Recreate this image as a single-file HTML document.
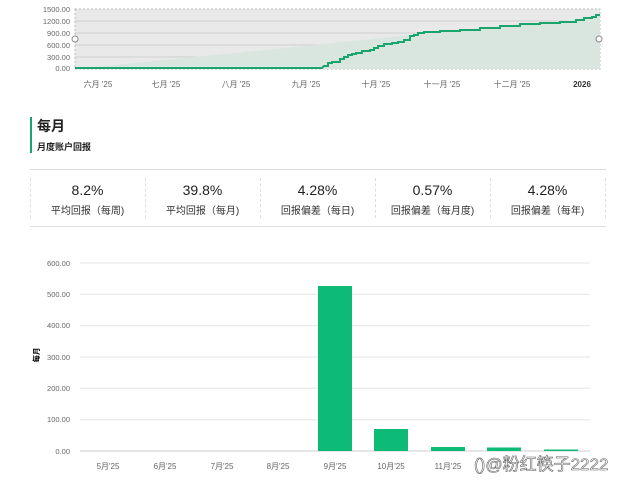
<!DOCTYPE html>
<html><head><meta charset="utf-8"><style>
body{margin:0;width:626px;height:497px;background:#fff;position:relative;overflow:hidden;font-family:"Liberation Sans","Noto Sans CJK SC",sans-serif;color:#222}
.a{position:absolute;white-space:nowrap}
.v{font-size:14px;width:115px;text-align:center}
.l{font-size:10px;width:115px;text-align:center;color:#333}
</style></head><body>
<svg class="a" style="left:0;top:0" width="626" height="100" font-family="Liberation Sans, Noto Sans CJK SC, sans-serif">
<rect x="75" y="9" width="525" height="60" fill="#e9e9e9" stroke="#bbb" stroke-dasharray="2,2"/>
<g stroke="#d0d0d0" stroke-width="1"><line x1="75" x2="600" y1="21" y2="21"/><line x1="75" x2="600" y1="33" y2="33"/><line x1="75" x2="600" y1="45" y2="45"/><line x1="75" x2="600" y1="57" y2="57"/></g>
<polygon fill="#d9e6e0" points="75,69 412,35 418,33 424,32 440,31 460,30 480,28 500,26 520,24 540,23 560,22 576,19 592,17 600,15 600,69"/>
<polyline fill="none" stroke="#1aa56e" stroke-width="2" points="75,68 312,68 322,68 324,66 328,66 328,63 332,63 332,62 340,62 340,59 344,59 344,57 348,57 348,55 352,55 352,54 356,54 356,53 362,53 362,51 370,51 370,50 374,50 374,48 378,48 378,46 384,46 384,44 392,44 392,43 398,43 398,42 404,42 404,40 410,40 410,36 414,36 414,35 418,35 418,33 424,33 424,32 440,32 440,31 460,31 460,30 480,30 480,28 500,28 500,26 520,26 520,24 540,24 540,23 560,23 560,22 576,22 576,20 584,20 584,18 592,18 592,17 596,17 596,15 600,15"/>
<g font-size="7.5" fill="#666" text-anchor="end"><text x="70" y="12">1500.00</text><text x="70" y="24">1200.00</text><text x="70" y="36">900.00</text><text x="70" y="48">600.00</text><text x="70" y="60">300.00</text><text x="70" y="71">0.00</text></g>
<circle cx="75" cy="39" r="3" fill="#fff" stroke="#888"/><circle cx="599" cy="39" r="3" fill="#fff" stroke="#888"/>
<g font-size="8" fill="#666" text-anchor="middle"><text x="98" y="87">六月 '25</text><text x="166" y="87">七月 '25</text><text x="236" y="87">八月 '25</text><text x="306" y="87">九月 '25</text><text x="376" y="87">十月 '25</text><text x="442" y="87">十一月 '25</text><text x="512" y="87">十二月 '25</text><text x="582" y="87" font-weight="bold" fill="#333">2026</text></g>
</svg>
<div class="a" style="left:30px;top:117px;width:2px;height:36px;background:#1aa56e"></div>
<div class="a" style="left:37px;top:116px;font-size:14px;font-weight:bold">每月</div>
<div class="a" style="left:37px;top:140px;font-size:9px;font-weight:bold">月度账户回报</div>
<div class="a" style="left:30px;top:169px;width:576px;height:56px;border-top:1px solid #ddd;border-bottom:1px solid #ddd"></div>
<div class="a" style="left:30px;top:178px;width:0;height:40px;border-left:1px dashed #ddd"></div>
<div class="a" style="left:145px;top:178px;width:0;height:40px;border-left:1px dashed #ddd"></div>
<div class="a" style="left:260px;top:178px;width:0;height:40px;border-left:1px dashed #ddd"></div>
<div class="a" style="left:375px;top:178px;width:0;height:40px;border-left:1px dashed #ddd"></div>
<div class="a" style="left:490px;top:178px;width:0;height:40px;border-left:1px dashed #ddd"></div>
<div class="a" style="left:605px;top:178px;width:0;height:40px;border-left:1px dashed #ddd"></div>
<div class="a v" style="left:30px;top:182px">8.2%</div><div class="a l" style="left:30px;top:202px">平均回报（每周)</div>
<div class="a v" style="left:145px;top:182px">39.8%</div><div class="a l" style="left:145px;top:202px">平均回报（每月)</div>
<div class="a v" style="left:260px;top:182px">4.28%</div><div class="a l" style="left:260px;top:202px">回报偏差（每日)</div>
<div class="a v" style="left:375px;top:182px">0.57%</div><div class="a l" style="left:375px;top:202px">回报偏差（每月度)</div>
<div class="a v" style="left:490px;top:182px">4.28%</div><div class="a l" style="left:490px;top:202px">回报偏差（每年)</div>
<svg class="a" style="left:0;top:250px" width="626" height="247" font-family="Liberation Sans, Noto Sans CJK SC, sans-serif">
<g stroke="#e6e6e6"><line x1="80" x2="590" y1="13" y2="13"/><line x1="80" x2="590" y1="44.3" y2="44.3"/><line x1="80" x2="590" y1="75.7" y2="75.7"/><line x1="80" x2="590" y1="107" y2="107"/><line x1="80" x2="590" y1="138.3" y2="138.3"/><line x1="80" x2="590" y1="169.7" y2="169.7"/><line x1="80" x2="590" y1="201" y2="201" stroke="#ccc"/></g>
<g font-size="7.5" fill="#666" text-anchor="end"><text x="70" y="16">600.00</text><text x="70" y="47">500.00</text><text x="70" y="78">400.00</text><text x="70" y="110">300.00</text><text x="70" y="141">200.00</text><text x="70" y="172">100.00</text><text x="70" y="204">0.00</text></g>
<text transform="translate(39,105) rotate(-90)" font-size="7.5" font-weight="bold" text-anchor="middle">每月</text>
<g fill="#0dbb77"><rect x="318" y="36" width="34" height="165"/><rect x="374" y="179" width="34" height="22"/><rect x="431" y="197" width="34" height="4"/><rect x="487" y="197.5" width="34" height="3.5"/><rect x="544" y="199.5" width="34" height="1.5"/></g>
<g font-size="8" fill="#666" text-anchor="middle"><text x="108" y="219">5月'25</text><text x="165" y="219">6月'25</text><text x="222" y="219">7月'25</text><text x="278" y="219">8月'25</text><text x="335" y="219">9月'25</text><text x="391" y="219">10月'25</text><text x="448" y="219">11月'25</text></g>
<text x="474" y="220" font-size="17" fill="#fff" stroke="#666" stroke-width="0.6">()@粉红筷子2222</text>
</svg>
</body></html>
